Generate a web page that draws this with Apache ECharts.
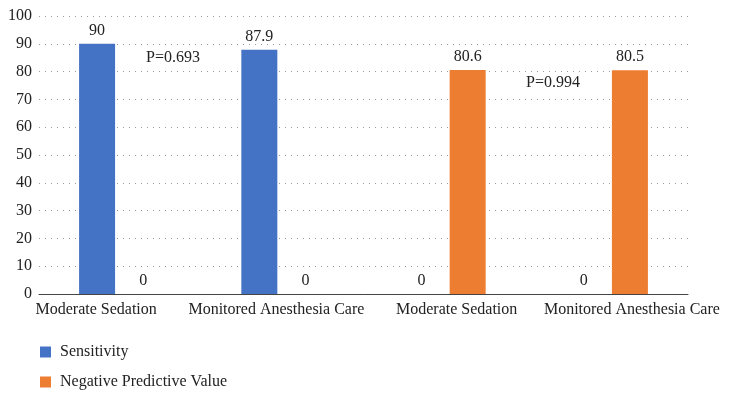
<!DOCTYPE html>
<html>
<head>
<meta charset="utf-8">
<script src="https://cdn.jsdelivr.net/npm/echarts@6/dist/echarts.min.js"></script>
<style>html,body{margin:0;padding:0;background:#fff}#c{width:731px;height:403px}</style>
</head>
<body>
<div id="c"></div>
<script>
const categories = ['Moderate Sedation', 'Monitored Anesthesia Care', 'Moderate Sedation', 'Monitored Anesthesia Care'];
const sensitivity = [90, 87.9, 0, 0];
const npv = [0, 0, 80.6, 80.5];
const seriesNames = ['Sensitivity', 'Negative Predictive Value'];
const annotations = ['P=0.693', 'P=0.994'];

const FONT = '"Liberation Serif", "DejaVu Serif", serif';
const FS = 16;
// horizontal label offsets (px) to mimic the reference's label placement
const labelShift = [-24, -6, 12, 25];
const rich = {};
labelShift.forEach((s, i) => {
  rich['s' + i] = {
    fontFamily: FONT, fontSize: FS, color: '#222',
    padding: s < 0 ? [0, -2 * s, 0, 0] : [0, 0, 0, 2 * s]
  };
});

const chart = echarts.init(document.getElementById('c'));
const labelStyle = { show: true, position: 'top', distance: 5, fontFamily: FONT, fontSize: FS, color: '#222' };
chart.setOption({
  animation: false,
  grid: { left: 39, right: 43, top: 16, bottom: 109, containLabel: false },
  legend: {
    orient: 'vertical', left: 40, top: 344, padding: 0,
    itemWidth: 11, itemHeight: 11, itemGap: 14,
    icon: 'rect',
    textStyle: { fontFamily: FONT, fontSize: FS, color: '#222', padding: [0, 0, 0, 4] },
    data: seriesNames
  },
  xAxis: {
    type: 'category', data: categories,
    axisLine: { lineStyle: { color: '#444', width: 1 } },
    axisTick: { show: false },
    axisLabel: {
      interval: 0, margin: 8, fontFamily: FONT, fontSize: FS, color: '#222',
      formatter: (v, i) => '{s' + i + '|' + v + '}',
      rich: rich
    }
  },
  yAxis: {
    type: 'value', min: 0, max: 100, interval: 10,
    axisLine: { show: false }, axisTick: { show: false },
    axisLabel: { margin: 7, fontFamily: FONT, fontSize: FS, color: '#222' },
    splitLine: { lineStyle: { color: '#999', type: [1, 5], width: 1 } }
  },
  series: [
    { name: seriesNames[0], type: 'bar', data: sensitivity, barWidth: 36, barGap: '28%',
      itemStyle: { color: '#4472C4' }, label: labelStyle },
    { name: seriesNames[1], type: 'bar', data: npv, barWidth: 36, barGap: '28%',
      itemStyle: { color: '#ED7D31' }, label: labelStyle }
  ],
  graphic: [
    { type: 'text', x: 173, y: 58, style: { text: annotations[0], font: FS + 'px ' + FONT, fill: '#222', align: 'center', verticalAlign: 'middle' } },
    { type: 'text', x: 553, y: 83, style: { text: annotations[1], font: FS + 'px ' + FONT, fill: '#222', align: 'center', verticalAlign: 'middle' } }
  ]
});
</script>
</body>
</html>
